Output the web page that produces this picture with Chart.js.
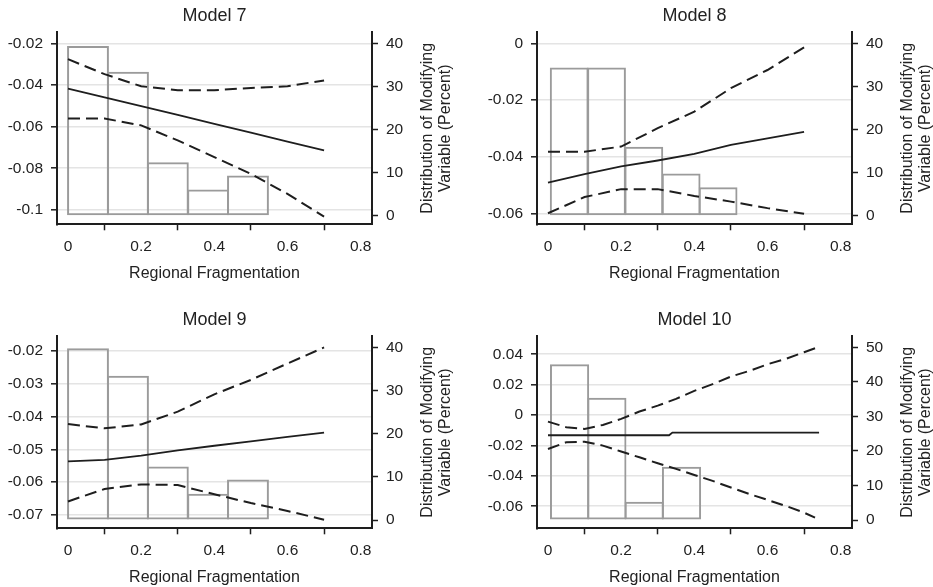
<!DOCTYPE html>
<html>
<head>
<meta charset="utf-8">
<script src="https://cdn.jsdelivr.net/npm/chart.js@4.4.1/dist/chart.umd.min.js"></script>
<style>
  html, body { margin: 0; padding: 0; background: #fff; overflow: hidden; }
  body { width: 933px; height: 587px; position: relative; }
  canvas { position: absolute; }
</style>
</head>
<body>
<canvas id="m7" width="470" height="290" style="left:0;top:0"></canvas>
<canvas id="m8" width="453" height="290" style="left:480px;top:0"></canvas>
<canvas id="m9" width="470" height="290" style="left:0;top:304px"></canvas>
<canvas id="m10" width="453" height="290" style="left:480px;top:304px"></canvas>
<script>
// shared labels and ticks
const xTitle = 'Regional Fragmentation';
const rightTitleLines = ['Distribution of Modifying', 'Variable (Percent)'];
const xTicks = [0, 0.2, 0.4, 0.6, 0.8];
const pctTicks = [0, 10, 20, 30, 40];
const pctTicks10 = [0, 10, 20, 30, 40, 50];
const xs = [0, 0.1, 0.2, 0.3, 0.4, 0.5, 0.6, 0.7];

// Model 7
const m7Ticks = [-0.1, -0.08, -0.06, -0.04, -0.02];
const m7Est = [-0.0417, -0.0459, -0.0502, -0.0544, -0.0587, -0.0629, -0.0672, -0.0714];
const m7Upper = [-0.0276, -0.0348, -0.0406, -0.0425, -0.0425, -0.0414, -0.0406, -0.0378];
const m7Lower = [-0.0561, -0.0561, -0.0594, -0.0666, -0.0746, -0.0827, -0.0923, -0.1032];
const m7Bins = [0.0547, 0.164, 0.273, 0.383, 0.492];
const m7Pct = [39.4, 33.4, 12.4, 6.1, 9.3];

// Model 8
const m8Ticks = [-0.06, -0.04, -0.02, 0];
const m8Est = [-0.0491, -0.0461, -0.0434, -0.0413, -0.0390, -0.0358, -0.0335, -0.0312];
const m8Upper = [-0.0382, -0.0382, -0.0364, -0.0299, -0.0241, -0.0158, -0.0094, -0.0014];
const m8Lower = [-0.0599, -0.0542, -0.0514, -0.0514, -0.0538, -0.0558, -0.0581, -0.0601];
const m8Bins = [0.058, 0.160, 0.262, 0.364, 0.465];
const m8Pct = [34.4, 34.4, 16.0, 9.8, 6.6];

// Model 9
const m9Ticks = [-0.07, -0.06, -0.05, -0.04, -0.03, -0.02];
const m9Est = [-0.0537, -0.0532, -0.0519, -0.0503, -0.0489, -0.0476, -0.0462, -0.0449];
const m9Upper = [-0.0423, -0.0436, -0.0424, -0.0385, -0.0332, -0.0288, -0.0238, -0.0189];
const m9Lower = [-0.0659, -0.0621, -0.0607, -0.0609, -0.0637, -0.0664, -0.0688, -0.0715];
const m9Bins = [0.0547, 0.164, 0.273, 0.383, 0.492];
const m9Pct = [39.8, 33.4, 12.4, 6.1, 9.4];

// Model 10
const m10Ticks = [-0.06, -0.04, -0.02, 0, 0.02, 0.04];
const m10EstX = [0, 0.331, 0.34, 0.741];
const m10Est = [-0.0133, -0.0133, -0.0115, -0.0115];
const m10X = [0, 0.05, 0.1, 0.15, 0.2, 0.25, 0.3, 0.35, 0.4, 0.45, 0.5, 0.55, 0.6, 0.65, 0.7, 0.73];
const m10Upper = [-0.0043, -0.0080, -0.0091, -0.0065, -0.0025, 0.0023, 0.0062, 0.0106, 0.0159, 0.0203, 0.0253, 0.0290, 0.0334, 0.0369, 0.0413, 0.0439];
const m10Lower = [-0.0223, -0.0179, -0.0175, -0.0201, -0.0240, -0.0278, -0.0317, -0.0354, -0.0394, -0.0433, -0.0477, -0.0519, -0.0558, -0.0598, -0.0642, -0.0675];
const m10Bins = [0.059, 0.161, 0.263, 0.365];
const m10Pct = [45.1, 35.4, 5.3, 15.4];

Chart.defaults.font.family = '"Liberation Sans", Arial, sans-serif';
Chart.defaults.color = '#222';

const ink = '#1e1e1e';
const barGray = '#9b9b9b';

// rotated two-line title on the right, reading bottom to top
const rightTitle = {
  id: 'rightTitle',
  afterDraw(chart, args, opts) {
    const { ctx, chartArea } = chart;
    ctx.save();
    ctx.translate(chartArea.right + 56, (chartArea.top + chartArea.bottom) / 2);
    ctx.rotate(-Math.PI / 2);
    ctx.font = '16px "Liberation Sans", Arial, sans-serif';
    ctx.fillStyle = '#222';
    ctx.textAlign = 'center';
    ctx.textBaseline = 'middle';
    opts.lines.forEach((t, i) => ctx.fillText(t, 0, i * 18));
    ctx.restore();
  }
};

function pairs(xv, yv) {
  return xv.map((x, i) => ({ x: x, y: yv[i] }));
}

function lineSet(xv, yv, dashed) {
  return {
    type: 'line',
    data: pairs(xv, yv),
    yAxisID: 'y',
    borderColor: ink,
    borderWidth: dashed ? 2 : 1.8,
    borderDash: dashed ? [12, 6] : [],
    pointRadius: 0,
    tension: 0,
    fill: false,
    order: 1
  };
}

function panel(id, p) {
  const canvas = document.getElementById(id);
  const W = canvas.width, H = canvas.height;
  new Chart(canvas, {
    type: 'bar',
    data: {
      datasets: [
        lineSet(p.ciX, p.upper, true),
        lineSet(p.ciX, p.lower, true),
        lineSet(p.estX, p.est, false),
        {
          type: 'bar',
          data: pairs(p.bins, p.pct),
          yAxisID: 'y2',
          backgroundColor: 'rgba(0,0,0,0)',
          borderColor: barGray,
          borderWidth: 2,
          borderSkipped: false,
          barPercentage: 1.05,
          categoryPercentage: 1,
          order: 3
        }
      ]
    },
    options: {
      responsive: false,
      animation: false,
      layout: { padding: 0 },
      plugins: {
        legend: { display: false },
        tooltip: { enabled: false },
        title: {
          display: true,
          text: p.title,
          fullSize: false,
          font: { size: 18, weight: 'normal' },
          color: '#222',
          padding: { top: 5, bottom: 5.7 }
        },
        rightTitle: { lines: rightTitleLines }
      },
      scales: {
        x: {
          type: 'linear',
          offset: false,
          min: -0.03,
          max: 0.831,
          afterFit: s => { s.height = H - 224.3; },
          afterBuildTicks: s => { s.ticks = xTicks.map(v => ({ value: v })); },
          ticks: { callback: v => String(v), font: { size: 15.5 }, color: '#222', padding: 7, maxRotation: 0 },
          grid: { drawOnChartArea: false, tickColor: ink, tickLength: 6, tickWidth: 1.5 },
          border: { color: ink, width: 2 },
          title: { display: true, text: xTitle, font: { size: 16 }, color: '#222', padding: { top: 0, bottom: 7 } }
        },
        y: {
          type: 'linear',
          position: 'left',
          min: p.yMin,
          max: p.yMax,
          afterFit: s => { s.width = 57; },
          afterBuildTicks: s => { s.ticks = p.yTicks.map(v => ({ value: v })); },
          ticks: { callback: v => String(v), font: { size: 15.5 }, color: '#222', padding: 8 },
          grid: { color: '#e4e4e4', lineWidth: 1.6, tickColor: ink, tickLength: 6, tickWidth: 1.5 },
          border: { color: ink, width: 2 }
        },
        y2: {
          type: 'linear',
          position: 'right',
          min: p.pMin,
          max: p.pMax,
          afterFit: s => { s.width = W - 372; },
          afterBuildTicks: s => { s.ticks = p.pTicks.map(v => ({ value: v })); },
          ticks: { callback: v => String(v), font: { size: 15.5 }, color: '#222', padding: 8 },
          grid: { drawOnChartArea: false, tickColor: ink, tickLength: 6, tickWidth: 1.5 },
          border: { color: ink, width: 2 }
        }
      }
    },
    plugins: [rightTitle]
  });
}

panel('m7', {
  title: 'Model 7', ciX: xs, estX: xs, est: m7Est, upper: m7Upper, lower: m7Lower,
  bins: m7Bins, pct: m7Pct, yTicks: m7Ticks, yMin: -0.1069, yMax: -0.0147,
  pTicks: pctTicks, pMin: -2.0, pMax: 42.55
});
panel('m8', {
  title: 'Model 8', ciX: xs, estX: xs, est: m8Est, upper: m8Upper, lower: m8Lower,
  bins: m8Bins, pct: m8Pct, yTicks: m8Ticks, yMin: -0.0638, yMax: 0.0039,
  pTicks: pctTicks, pMin: -2.0, pMax: 42.55
});
panel('m9', {
  title: 'Model 9', ciX: xs, estX: xs, est: m9Est, upper: m9Upper, lower: m9Lower,
  bins: m9Bins, pct: m9Pct, yTicks: m9Ticks, yMin: -0.0741, yMax: -0.0155,
  pTicks: pctTicks, pMin: -1.92, pMax: 42.55
});
panel('m10', {
  title: 'Model 10', ciX: m10X, estX: m10EstX, est: m10Est, upper: m10Upper, lower: m10Lower,
  bins: m10Bins, pct: m10Pct, yTicks: m10Ticks, yMin: -0.0745, yMax: 0.0518,
  pTicks: pctTicks10, pMin: -2.4, pMax: 53.19
});
</script>
</body>
</html>
